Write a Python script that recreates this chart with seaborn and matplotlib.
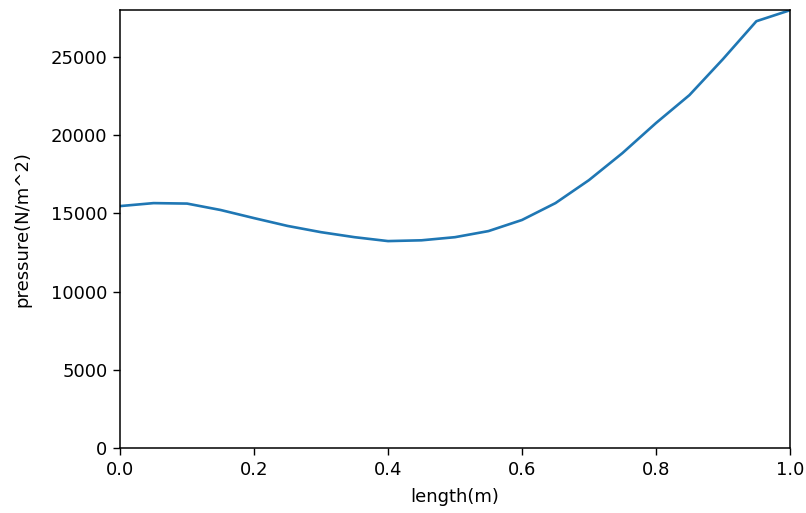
import matplotlib
matplotlib.use("Agg")
import matplotlib.pyplot as plt
import seaborn as sns
import pandas as pd

length = [0.0, 0.05, 0.1, 0.15, 0.2, 0.25, 0.3, 0.35, 0.4, 0.45, 0.5,
          0.55, 0.6, 0.65, 0.7, 0.75, 0.8, 0.85, 0.9, 0.95, 1.0]
pressure = [15470, 15660, 15630, 15220, 14700, 14200, 13800, 13480, 13230, 13280, 13480,
            13870, 14580, 15660, 17130, 18860, 20780, 22570, 24870, 27300, 28000]

sns.set_style("ticks")
plt.rcParams['font.family'] = ['DejaVu Sans']
plt.rcParams['text.color'] = 'black'
plt.rcParams['axes.labelcolor'] = 'black'
plt.rcParams['xtick.color'] = 'black'
plt.rcParams['ytick.color'] = 'black'

df = pd.DataFrame({"length": length, "pressure": pressure})

fig = plt.figure(figsize=(8.06, 5.13), dpi=100)
ax = fig.add_axes([0.149, 0.127, 0.831, 0.853])
sns.lineplot(data=df, x="length", y="pressure", ax=ax, color="#1f77b4", linewidth=1.9)
ax.set_xlim(0, 1.0)
ax.set_ylim(0, 28000)
ax.set_xlabel("length(m)", fontsize=13, labelpad=7)
ax.set_ylabel("pressure(N/m^2)", fontsize=13, labelpad=14)
ax.tick_params(labelsize=13, length=4.7, width=1.0, pad=4.5)
for s in ax.spines.values():
    s.set_visible(True)
    s.set_color("black")
    s.set_linewidth(1.1)
fig.savefig("out.png", dpi=100)
